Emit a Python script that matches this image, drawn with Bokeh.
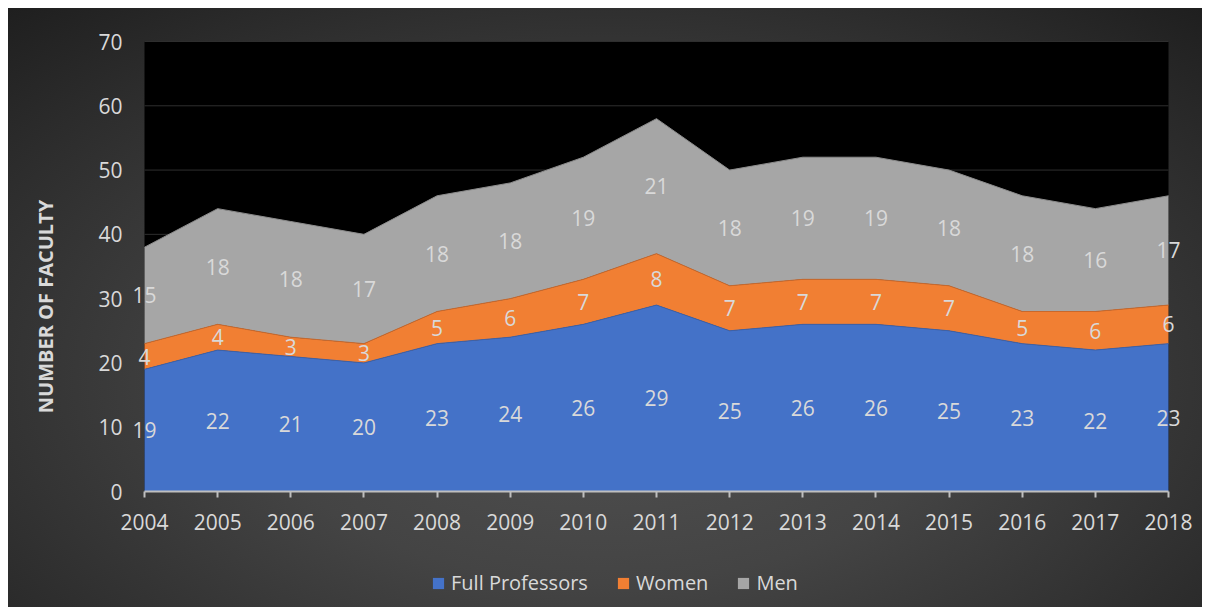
import math
from bokeh.plotting import figure
from bokeh.models import ColumnDataSource, LabelSet, Legend, LegendItem, Label, FixedTicker, Range1d
from bokeh.core.properties import value
from bokeh.embed import file_html
from bokeh.resources import INLINE

years = [2004, 2005, 2006, 2007, 2008, 2009, 2010, 2011, 2012, 2013, 2014, 2015, 2016, 2017, 2018]
full_professors = [19, 22, 21, 20, 23, 24, 26, 29, 25, 26, 26, 25, 23, 22, 23]
women = [4, 4, 3, 3, 5, 6, 7, 8, 7, 7, 7, 7, 5, 6, 6]
men = [15, 18, 18, 17, 18, 18, 19, 21, 18, 19, 19, 18, 18, 16, 17]
series_names = ["Full Professors", "Women", "Men"]
y_ticks = [0, 10, 20, 30, 40, 50, 60, 70]
y_title = "NUMBER OF FACULTY"

colors = ["#4472c8", "#f17f33", "#a6a6a6"]
edge_colors = ["#3a62ad", "#c9682b", "#8c8c8c"]
TXT = "#d9d9d9"
FONT = "Open Sans"

# layout (pixels inside the figure)
W, H = 1194, 599
PL, PR, PT, PB = 136, 1160, 33, 483   # plot area box
x0, x1 = years[0], years[-1]
y0, y1 = y_ticks[0], y_ticks[-1]
sx = (PR - PL) / (x1 - x0)
sy = (PB - PT) / (y1 - y0)

# stacked bases / tops
b1 = [0] * len(years)
t1 = [a for a in full_professors]
t2 = [a + b for a, b in zip(t1, women)]
t3 = [a + b for a, b in zip(t2, men)]

src = ColumnDataSource(dict(
    year=years, full=full_professors, women=women, men=men,
    t1=t1, t2=t2, t3=t3,
    m1=[(a + b) / 2 for a, b in zip(b1, t1)],
    m2=[(a + b) / 2 for a, b in zip(t1, t2)],
    m3=[(a + b) / 2 for a, b in zip(t2, t3)],
    l1=[str(v) for v in full_professors],
    l2=[str(v) for v in women],
    l3=[str(v) for v in men],
))

p = figure(width=W, height=H, output_backend="svg", toolbar_location=None,
           x_range=Range1d(x0 - PL / sx, x1 + (W - PR) / sx),
           y_range=Range1d(y0 - (H - PB) / sy, y1 + PT / sy),
           min_border=0, min_border_left=0, min_border_right=0,
           min_border_top=0, min_border_bottom=0)
p.styles = {"margin": "8px",
            "background": "radial-gradient(ellipse 75% 85% at 50% 62%, #525252 0%, #444444 40%, #2e2e2e 75%, #1e1e1e 100%)"}
p.border_fill_color = None
p.background_fill_color = None
p.outline_line_color = None
p.xgrid.grid_line_color = None
p.ygrid.grid_line_color = None

# plot area and gridlines
p.quad(left=x0, right=x1, bottom=y0, top=y1, fill_color="#000000", line_color=None)
p.segment(x0=[x0] * len(y_ticks), x1=[x1] * len(y_ticks), y0=y_ticks, y1=y_ticks,
          line_color="#2e2e2e", line_width=1)

rs = p.varea_stack(["full", "women", "men"], x="year", source=src, color=colors)
for col, ec in zip(["t1", "t2", "t3"], edge_colors):
    p.line("year", col, source=src, line_color=ec, line_width=1)

# axes
p.xaxis.ticker = FixedTicker(ticks=years)
p.yaxis.ticker = FixedTicker(ticks=y_ticks)
p.xaxis.fixed_location = y0
p.yaxis.fixed_location = x0
p.xaxis.bounds = (x0, x1)
p.yaxis.bounds = (y0, y1)
for ax in [p.xaxis[0], p.yaxis[0]]:
    ax.major_label_text_color = TXT
    ax.major_label_text_font = FONT
    ax.major_label_text_font_size = "21px"
    ax.minor_tick_line_color = None
p.xaxis.axis_line_color = "#bfbfbf"
p.xaxis.axis_line_width = 2
p.xaxis.major_tick_line_color = "#bfbfbf"
p.xaxis.major_tick_line_width = 2
p.xaxis.major_tick_in = 0
p.xaxis.major_tick_out = 6
p.xaxis.major_label_standoff = 16
p.yaxis.axis_line_color = None
p.yaxis.major_tick_line_color = None
p.yaxis.major_tick_in = 0
p.yaxis.major_tick_out = 0
p.yaxis.major_label_standoff = 22

# data labels
for ycol, tcol in [("m1", "l1"), ("m2", "l2"), ("m3", "l3")]:
    p.add_layout(LabelSet(x="year", y=ycol, text=tcol, source=src,
                          text_align="center", text_baseline="middle",
                          text_color=TXT, text_font=value(FONT), text_font_size="21px"))

# y-axis title
p.add_layout(Label(x=x0 - (PL - 36.5) / sx, y=y0 + (PB - 298) / sy, text=y_title,
                   angle=math.pi / 2, text_align="center", text_baseline="middle",
                   text_color=TXT, text_font=FONT, text_font_style="bold",
                   text_font_size="20px"))

legend = Legend(items=[LegendItem(label=n, renderers=[r]) for n, r in zip(series_names, rs)],
                orientation="horizontal", location=(419, 7),
                background_fill_alpha=0, border_line_alpha=0,
                label_text_color=TXT, label_text_font=FONT, label_text_font_size="20px",
                glyph_width=14, glyph_height=14, spacing=28, label_standoff=6,
                margin=0, padding=4)
p.add_layout(legend, "center")

open("out.html", "w").write(file_html(p, INLINE))
